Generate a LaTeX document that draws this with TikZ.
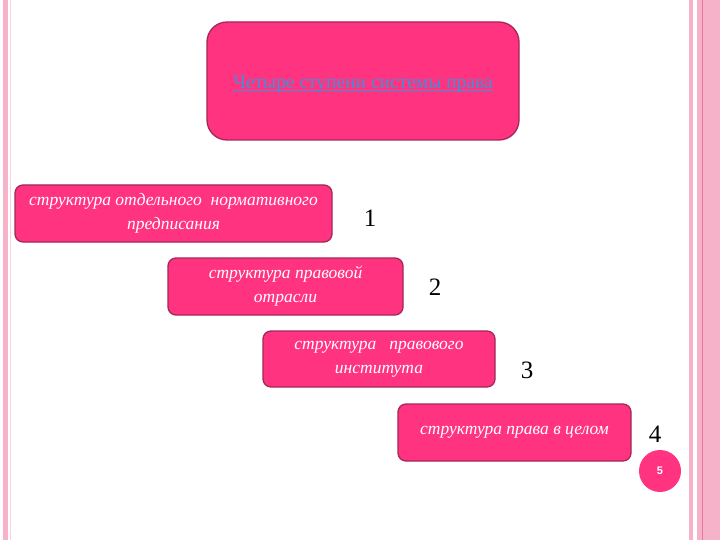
\documentclass[tikz,border=0pt]{standalone}
\usepackage{fontspec}
\setmainfont{Liberation Serif}
\setsansfont{Liberation Sans}
\usepackage{xcolor}
\usepackage{tikz}

\definecolor{boxpink}{RGB}{255,51,128}
\definecolor{boxedge}{RGB}{165,38,88}
\definecolor{stripe}{RGB}{246,178,200}
\definecolor{stripedark}{RGB}{228,120,160}
\definecolor{titleblue}{RGB}{70,140,215}

\tikzset{
    stage/.style={rectangle, rounded corners=8pt, draw=boxedge, line width=1.3pt, fill=boxpink,
        text=white, align=center, font=\fontsize{17.5}{24}\selectfont\itshape, inner sep=0pt},
    level/.style={font=\fontsize{25}{25}\selectfont, text=black}
}

\begin{document}
\begin{tikzpicture}[x=1pt, y=-1pt]
    \useasboundingbox (0,0) rectangle (720,540);
    % page frame stripes
    \fill[stripe] (3,0) rectangle (8,540);
    \fill[stripe!60] (10,0) rectangle (11,540);
    \fill[stripe] (689,0) rectangle (693,540);
    \fill[stripe] (697,0) rectangle (702,540);
    \fill[stripedark] (702,0) rectangle (703,540);
    \fill[stripe] (703,0) rectangle (720,540);

    \node (title) [stage, rounded corners=20pt, minimum width=312pt, minimum height=118pt] at (363,81) {};
    \node (titletext) [text=titleblue, font=\fontsize{19.5}{22}\selectfont, inner sep=0pt] at (363,84)
        {Четыре ступени системы права};
    \draw[titleblue, line width=1pt] ([yshift=-2pt]titletext.base west) -- ([yshift=-2pt]titletext.base east);

    \node (norm) [stage, minimum width=317pt, minimum height=57pt] at (173.5,213.5)
        {структура отдельного\ \ нормативного\\предписания};
    \node (branch) [stage, minimum width=235pt, minimum height=57pt] at (285.5,286.5)
        {структура правовой\\отрасли};
    \node (inst) [stage, minimum width=232pt, minimum height=56pt] at (379,359)
        {структура\ \ \ правового\\института};
    \node (whole) [stage, minimum width=233pt, minimum height=57pt] at (514.5,432.5)
        {структура права в целом};

    \node (n1) [level] at (370,218) {1};
    \node (n2) [level] at (435,287) {2};
    \node (n3) [level] at (527,370) {3};
    \node (n4) [level] at (655,434) {4};

    \node (page) [circle, fill=boxpink, minimum size=42pt, inner sep=0pt, text=white,
        font=\sffamily\bfseries\fontsize{11}{11}\selectfont] at (660,471) {5};
\end{tikzpicture}
\end{document}
